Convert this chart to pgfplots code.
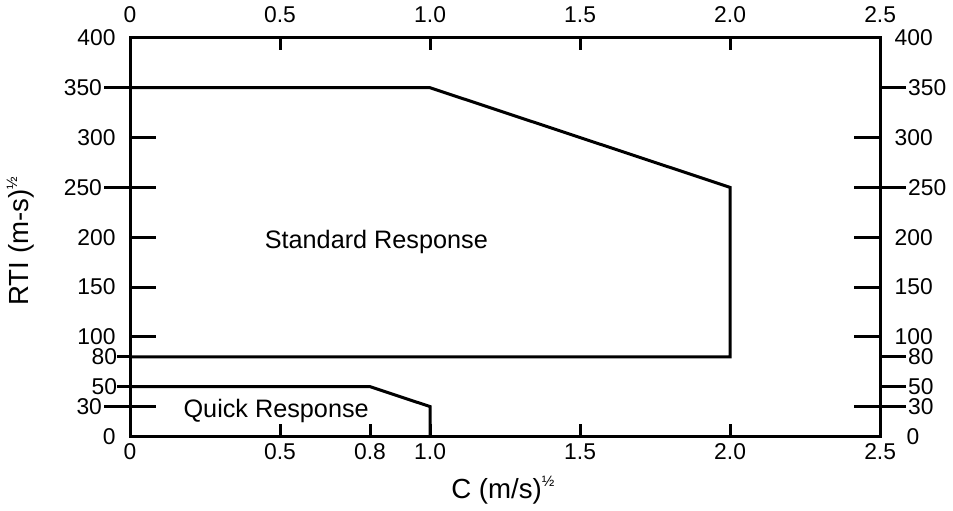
\documentclass[border=0pt]{standalone}
\usepackage{pgfplots}
\pgfplotsset{compat=1.18}
\usepackage{fontspec}
\setmainfont{Liberation Sans}

\newcommand{\half}{\raisebox{0.8ex}{\fontsize{7.5}{7.5}\selectfont ½}}

\pgfplotsset{
  base/.style={
    scale only axis, width=374.5pt, height=199pt,
    xmin=0, xmax=2.5, ymin=0, ymax=400,
    axis line style={line width=1.5pt},
    every tick/.style={black, line width=1.5pt},
    tick label style={font=\fontsize{11.4}{13}\selectfont},
  },
  inner/.style={
    extra y ticks={0,30,100,150,200,250,300,400},
    extra y tick style={tick align=inside},
  },
}

\begin{document}
\begin{tikzpicture}
% bottom x axis, frame and the two regions
\begin{axis}[base,
    xtick={0,0.5,0.8,1,1.5,2,2.5},
    xticklabels={0,0.5,0.8,1.0,1.5,2.0,2.5},
    xtick pos=bottom, tick align=inside, major tick length=6pt,
    ytick=\empty,
    xlabel={C (m/s)\half},
    ylabel={RTI (m-s)\half},
    every axis x label/.style={at={(axis description cs:0.497,-0.135)}, anchor=center,
        font=\fontsize{13.8}{15}\selectfont},
    every axis y label/.style={at={(axis description cs:-0.146,0.49)}, anchor=center, rotate=90,
        font=\fontsize{13.8}{15}\selectfont},
]
\addplot[black, line width=1.5pt] coordinates {(0,350) (1,350) (2,250) (2,80) (0,80)};
\addplot[black, line width=1.5pt] coordinates {(0,50) (0.8,50) (1,30) (1,0)};
\node[font=\fontsize{12.6}{14}\selectfont, anchor=base] at (axis cs:0.821,189) {Standard Response};
\node[font=\fontsize{12.6}{14}\selectfont, anchor=base] at (axis cs:0.487,19.4) {Quick Response};
\end{axis}
% top x axis
\begin{axis}[base,
    xtick={0,0.5,1,1.5,2,2.5},
    xticklabels={0,0.5,1.0,1.5,2.0,2.5},
    xtick pos=top, xticklabel pos=top, tick align=inside, major tick length=6pt,
    xticklabel style={yshift=4pt},
    ytick=\empty,
]
\end{axis}
% left y axis: long outer ticks and inner ticks
\begin{axis}[base, inner,
    xtick=\empty,
    ytick={30,250,350},
    yticklabels={30,250,350},
    ytick pos=left, yticklabel pos=left,
    tick align=outside, major tick length=13pt,
    yticklabel style={xshift=2.5pt},
    extra y tick labels={0,,100,150,200,,300,400},
    extra y tick style={yticklabel style={xshift=-6.2pt}},
]
\end{axis}
% left y axis: short outer ticks at 50 and 80
\begin{axis}[base,
    xtick=\empty,
    ytick={50,80},
    yticklabels={50,{80\hspace{8.5pt}}},
    ytick pos=left, yticklabel pos=left,
    tick align=outside, major tick length=6.5pt,
    yticklabel style={xshift=3.5pt},
]
\end{axis}
% right y axis
\begin{axis}[base, inner,
    xtick=\empty,
    ytick={30,50,80,250,350},
    yticklabels={30,50,80,250,350},
    ytick pos=right, yticklabel pos=right,
    tick align=outside, major tick length=13pt,
    yticklabel style={xshift=-2.5pt},
    extra y tick labels={{\hspace{6pt}0},,100,150,200,,300,400},
    extra y tick style={yticklabel style={xshift=6.2pt}},
]
\end{axis}
\end{tikzpicture}
\end{document}
